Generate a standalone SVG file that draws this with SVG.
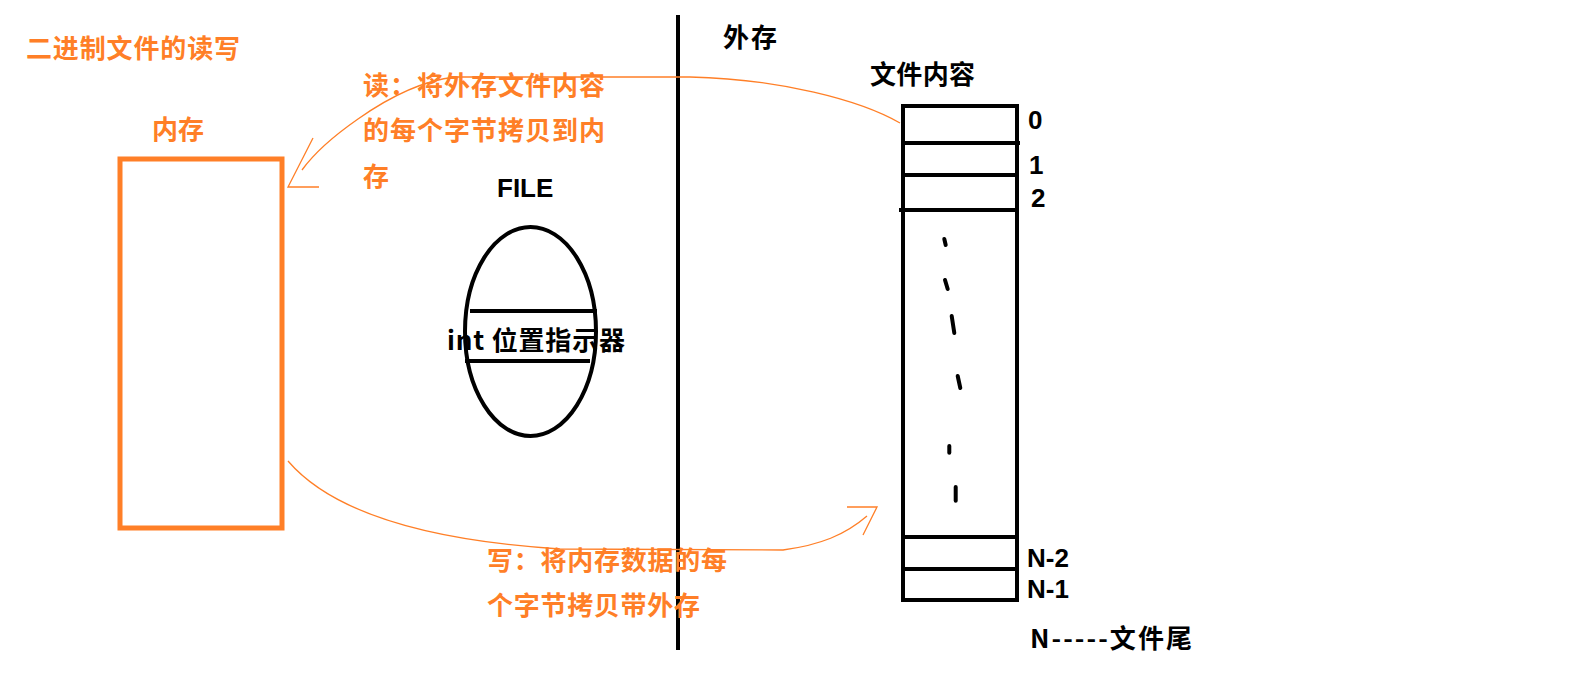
<svg xmlns="http://www.w3.org/2000/svg" width="1571" height="687" viewBox="0 0 1571 687">
<style>
.o{fill:#FF7F27;font-family:"Noto Sans CJK SC",sans-serif;font-weight:bold;font-size:26px}
.k{fill:#000;font-family:"Noto Sans CJK SC",sans-serif;font-weight:bold;font-size:26px}
.l{fill:#000;font-family:"Liberation Sans",Arial,sans-serif;font-weight:bold;font-size:26px}
.ln{stroke:#000;stroke-width:4;fill:none}
.arr{stroke:#FF7F27;stroke-width:1.3;fill:none}
.dot{stroke:#000;stroke-width:4;stroke-linecap:round}
</style>
<rect width="1571" height="687" fill="#fff"/>
<text class="o" x="26" y="58" textLength="214">二进制文件的读写</text>
<g id="memory">
<text class="o" x="152" y="139" textLength="52">内存</text>
<rect x="120" y="159" width="162" height="369" fill="none" stroke="#FF7F27" stroke-width="5"/>
</g>
<line id="divider" class="ln" x1="678" y1="15" x2="678" y2="650"/>
<text class="k" x="723" y="47" textLength="54">外存</text>
<g id="file">
<text class="l" x="497" y="197" font-size="24">FILE</text>
<ellipse cx="530.5" cy="331.5" rx="65.5" ry="104.5" class="ln"/>
<line class="ln" x1="470" y1="311" x2="597" y2="311"/>
<line class="ln" x1="465" y1="361" x2="590" y2="361"/>
<text class="k" x="447" y="350" textLength="178">int 位置指示器</text>
</g>
<g id="content">
<text class="k" x="870" y="84" textLength="105">文件内容</text>
<rect x="903" y="106" width="114" height="494" class="ln"/>
<line class="ln" x1="903" y1="143" x2="1020" y2="143"/>
<line class="ln" x1="903" y1="175" x2="1017" y2="175"/>
<line class="ln" x1="899" y1="210" x2="1017" y2="210"/>
<line class="ln" x1="903" y1="537" x2="1017" y2="537"/>
<line class="ln" x1="903" y1="569" x2="1017" y2="569"/>
<line class="dot" x1="944.3" y1="239" x2="945.7" y2="245"/>
<line class="dot" x1="945" y1="280" x2="947.7" y2="289"/>
<line class="dot" x1="951.7" y1="316" x2="954.3" y2="333"/>
<line class="dot" x1="957.7" y1="376" x2="960.3" y2="388"/>
<line class="dot" x1="949.3" y1="446" x2="949.3" y2="452.7"/>
<line class="dot" x1="955.7" y1="487" x2="955.7" y2="500.7"/>
<text class="l" x="1028" y="129">0</text>
<text class="l" x="1029" y="174">1</text>
<text class="l" x="1031" y="207">2</text>
<text class="l" x="1027" y="567" font-size="28">N-2</text>
<text class="l" x="1027" y="598" font-size="28">N-1</text>
<text class="k" x="1030" y="648" textLength="162">N-----文件尾</text>
</g>
<g id="connectors">
<path class="arr" d="M900,123 C860,100 780,79 690,77 L455,77 C420,81 385,100 358,119 C335,135 315,152 302,170"/>
<path class="arr" d="M313,138 L288,187 L319,187"/>
<path class="arr" d="M288,461 C330,510 420,540 560,549 L783,550 C820,545 845,535 867,516"/>
<path class="arr" d="M847,507 L877,507 L863,535"/>
</g>
<g id="labels">
<text class="o" x="363" y="95" textLength="242">读：将外存文件内容</text>
<text class="o" x="363" y="140" textLength="242">的每个字节拷贝到内</text>
<text class="o" x="363" y="186">存</text>
<text class="o" x="487" y="570" textLength="240">写：将内存数据的每</text>
<text class="o" x="487" y="615" textLength="213">个字节拷贝带外存</text>
</g>
</svg>
